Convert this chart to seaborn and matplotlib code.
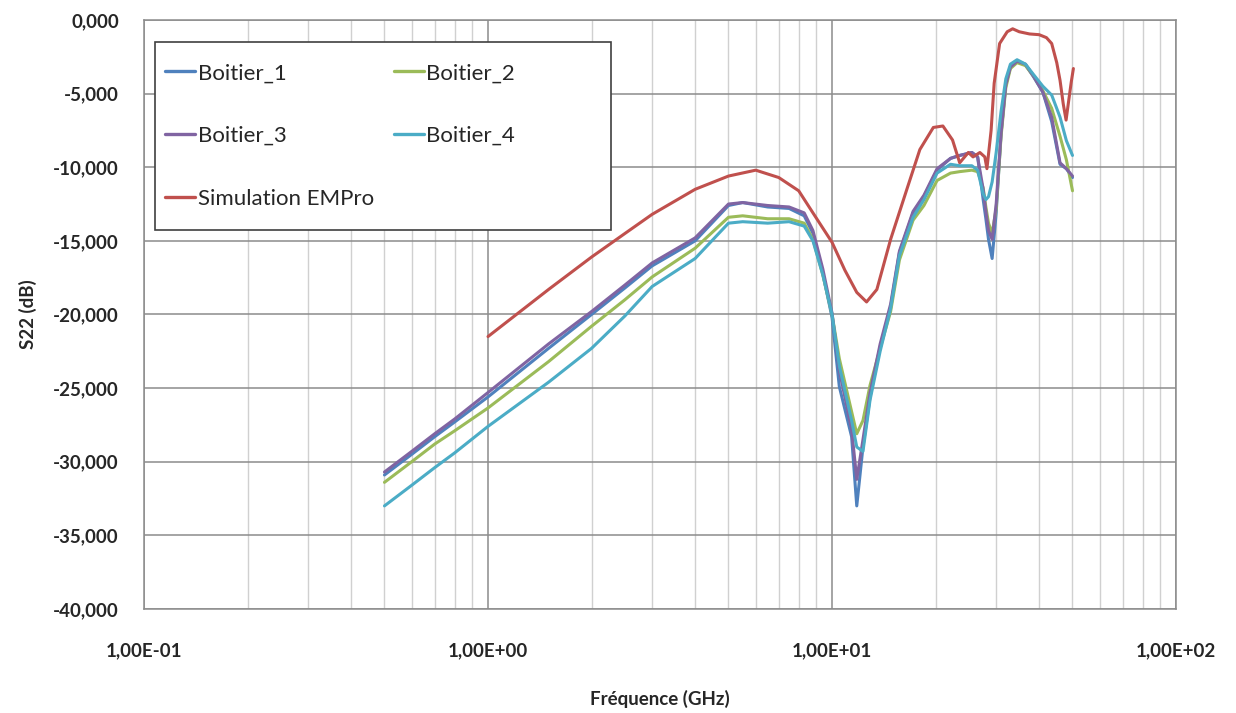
import numpy as np
import pandas as pd
import matplotlib
matplotlib.use("Agg")
import matplotlib.pyplot as plt
import matplotlib.ticker as mticker
from matplotlib.patches import Rectangle
import seaborn as sns

# ---- data ----
freq_meas = [0.5, 0.6, 0.7, 0.8, 1.0, 1.5, 2.0, 2.5, 3.0, 4.0, 5.0, 5.5, 6.5, 7.5, 8.3, 8.8,
             9.4, 10.0, 10.5, 11.4, 11.8, 12.3, 12.9, 13.8, 14.8, 15.7, 17.2, 18.5, 20.2, 22.1,
             23.5, 25.5, 26.5, 27.5, 28.0, 28.5, 29.2, 30.0, 31.0, 32.0, 33.0, 34.5, 36.5,
             38.5, 41.0, 43.5, 46.0, 48.0, 50.0]

boitier_1 = [-30.9, -29.5, -28.3, -27.3, -25.6, -22.3, -20.0, -18.2, -16.7, -15.0, -12.6, -12.4,
             -12.7, -12.8, -13.3, -14.5, -17.2, -20.2, -24.9, -28.3, -33.0, -29.0, -25.6, -22.2,
             -19.5, -15.8, -13.1, -12.0, -10.2, -9.4, -9.2, -9.0, -9.3, -12.2, -13.5, -14.9,
             -16.2, -13.1, -7.7, -4.3, -3.2, -2.8, -3.05, -3.85, -4.9, -6.9, -9.8, -10.1, -10.7]

boitier_2 = [-31.4, -30.0, -28.8, -27.9, -26.35, -23.2, -20.8, -19.0, -17.45, -15.5, -13.4, -13.3,
             -13.5, -13.5, -13.8, -14.9, -17.3, -20.0, -23.0, -26.6, -28.1, -27.2, -24.8, -22.3,
             -19.8, -16.3, -13.6, -12.6, -10.9, -10.4, -10.3, -10.2, -10.3, -11.4, -12.7, -13.8,
             -14.5, -12.8, -7.9, -4.6, -3.3, -2.9, -3.1, -3.8, -4.8, -6.0, -7.9, -9.5, -11.6]

boitier_3 = [-30.7, -29.3, -28.1, -27.1, -25.3, -22.0, -19.8, -18.0, -16.5, -14.8, -12.5, -12.4,
             -12.6, -12.7, -13.1, -14.3, -16.9, -19.9, -23.8, -27.8, -31.2, -28.5, -25.3, -22.0,
             -19.3, -15.7, -13.0, -11.9, -10.1, -9.4, -9.2, -9.0, -9.3, -11.5, -13.0, -14.3,
             -14.9, -12.5, -7.7, -4.4, -3.2, -2.8, -3.0, -3.8, -4.9, -6.6, -9.7, -10.1, -10.6]

boitier_4 = [-33.0, -31.6, -30.4, -29.4, -27.6, -24.6, -22.3, -20.1, -18.1, -16.2, -13.8, -13.7,
             -13.8, -13.7, -14.0, -15.0, -17.3, -20.0, -23.5, -27.2, -29.0, -29.3, -25.8, -22.5,
             -19.6, -16.0, -13.4, -12.2, -10.4, -9.8, -9.9, -9.9, -10.2, -11.8, -12.2, -12.0,
             -11.0, -9.0, -6.2, -4.0, -3.0, -2.7, -3.0, -3.7, -4.5, -5.1, -6.6, -8.2, -9.2]

freq_sim = [1.0, 1.5, 2.0, 2.5, 3.0, 4.0, 5.0, 6.0, 7.0, 8.0, 8.8, 10.0, 10.9, 11.8, 12.6, 13.5,
            14.8, 16.5, 18.0, 19.7, 21.0, 22.4, 23.5, 24.9, 25.7, 26.9, 27.8, 28.2, 29.0, 29.6,
            30.7, 32.3, 33.5, 35.0, 37.5, 40.0, 42.0, 43.5, 45.0, 46.0, 47.0, 47.9, 48.8, 49.6, 50.3]
sim_empro = [-21.5, -18.3, -16.1, -14.5, -13.2, -11.5, -10.6, -10.2, -10.7, -11.6, -13.1, -15.1,
             -17.0, -18.5, -19.15, -18.3, -14.9, -11.5, -8.8, -7.3, -7.2, -8.15, -9.7, -9.0,
             -9.3, -9.0, -9.3, -10.1, -7.5, -4.3, -1.6, -0.8, -0.6, -0.8, -0.95, -1.0, -1.2,
             -1.6, -2.9, -4.1, -5.7, -6.8, -5.4, -4.2, -3.3]

series_names = ["Boitier_1", "Boitier_2", "Boitier_3", "Boitier_4", "Simulation EMPro"]
colors = ["#4F81BD", "#9BBB59", "#8064A2", "#4BACC6", "#C0504D"]

rows = []
for name, vals in zip(series_names[:4], [boitier_1, boitier_2, boitier_3, boitier_4]):
    rows.append(pd.DataFrame({"freq": freq_meas, "s22": vals, "serie": name}))
rows.append(pd.DataFrame({"freq": freq_sim, "s22": sim_empro, "serie": series_names[4]}))
df = pd.concat(rows, ignore_index=True)

# ---- plot ----
sns.set_style("white")
plt.rcParams["font.family"] = ["Lato", "DejaVu Sans"]

fig = plt.figure(figsize=(12.36, 7.13), dpi=100)
ax = fig.add_axes([0.1165, 0.1459, 0.835, 0.8261])

sns.lineplot(data=df, x="freq", y="s22", hue="serie", hue_order=series_names,
             palette=colors, estimator=None, sort=False, linewidth=2.2, ax=ax)

ax.set_xscale("log")
ax.set_xlim(0.1, 100)
ax.set_ylim(-40, 0)
ax.yaxis.set_major_locator(mticker.MultipleLocator(5))
ax.yaxis.set_major_formatter(mticker.FuncFormatter(lambda v, p: f"{v:.3f}".replace(".", ",")))
ax.xaxis.set_major_locator(mticker.LogLocator(base=10, numticks=10))
ax.xaxis.set_minor_locator(mticker.LogLocator(base=10, subs=np.arange(2, 10), numticks=20))
ax.xaxis.set_minor_formatter(mticker.NullFormatter())
ax.xaxis.set_major_formatter(mticker.FuncFormatter(
    lambda v, p: ("%.2E" % v).replace(".", ",")))

ax.grid(True, which="major", axis="both", color="#8c8c8c", linewidth=1.1)
ax.grid(True, which="minor", axis="x", color="#d0d0d0", linewidth=1.0)
ax.set_axisbelow(True)
for sp in ax.spines.values():
    sp.set_color("#8c8c8c")
    sp.set_linewidth(1.1)

ax.tick_params(axis="both", which="both", length=0)
ax.tick_params(axis="x", pad=24, labelsize=13.5)
ax.tick_params(axis="y", pad=18, labelsize=13.5)
for lab in ax.get_xticklabels() + ax.get_yticklabels():
    lab.set_fontweight("bold")

ax.set_xlabel("Fréquence (GHz)", fontsize=13.5, fontweight="bold", labelpad=22)
ax.set_ylabel("S22 (dB)", fontsize=13.5, fontweight="bold", labelpad=12)

# legend box (drawn as its own frame) + entries, two columns filled row by row
ax.add_patch(Rectangle((0.0107, 0.643), 0.4419, 0.3196, transform=ax.transAxes,
                       facecolor="white", edgecolor="#404040", linewidth=1.2, zorder=4))
handles, labels = ax.get_legend_handles_labels()
lookup = dict(zip(labels, handles))
order = ["Boitier_1", "Boitier_3", "Simulation EMPro", "Boitier_2", "Boitier_4"]
leg = ax.legend([lookup[o] for o in order], order, ncol=2, loc="upper left",
                bbox_to_anchor=(0.0203, 0.9265), fontsize=16, frameon=False,
                borderaxespad=0, borderpad=0, handlelength=1.35, handletextpad=0.12,
                labelspacing=1.93, columnspacing=0.9)
leg.set_zorder(5)
for line in leg.get_lines():
    line.set_linewidth(2.4)

fig.savefig("out.png", dpi=100)
